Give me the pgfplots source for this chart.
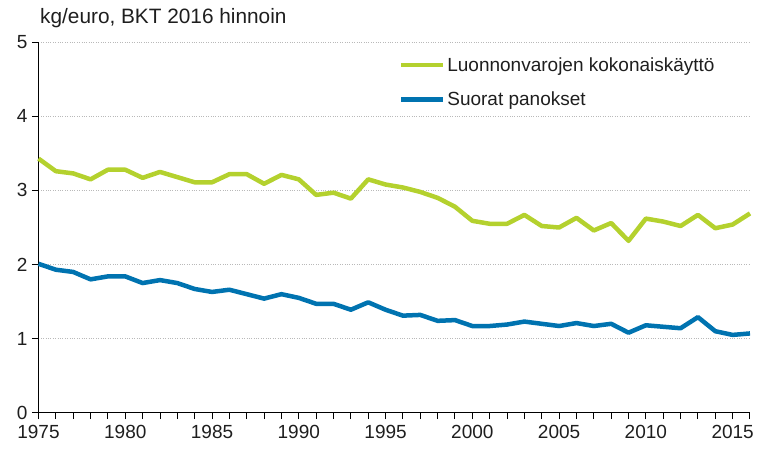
\documentclass[border=0pt]{standalone}
\usepackage{pgfplots}
\pgfplotsset{compat=1.18}
\usepackage{fontspec}
\setmainfont{Liberation Sans}
\definecolor{sfgreen}{RGB}{180,209,46}
\definecolor{sfblue}{RGB}{0,115,176}
\definecolor{txt}{RGB}{30,30,30}
\begin{document}
\begin{tikzpicture}
\useasboundingbox (-38.5bp,-40.3bp) rectangle (719.5bp,412.7bp);
\begin{axis}[
  at={(0,0)}, anchor=south west,
  scale only axis,
  width=711.5bp, height=370.4bp,
  xmin=1975, xmax=2016, ymin=0, ymax=5,
  axis x line*=bottom, axis y line*=left,
  axis line style={black, line width=0.9bp, -},
  xtick={1975,1980,...,2015},
  minor xtick={1975,...,2016},
  ytick={0,1,...,5},
  tick align=outside,
  major tick length=6.5bp, minor tick length=6.5bp,
  tick style={black, line width=0.9bp},
  ymajorgrids,
  major grid style={gray!55, dotted, line width=0.6bp},
  /pgf/number format/1000 sep={},
  /pgf/number format/assume math mode=true,
  ticklabel style={font=\fontsize{19bp}{22bp}\selectfont, text=txt},
  xticklabel style={yshift=-3bp},
  yticklabel style={xshift=-1bp},
  legend style={at={(rel axis cs:0.502,0.97)}, anchor=north west, draw=none, fill=none,
    font=\fontsize{19bp}{22bp}\selectfont, text=txt, row sep=15bp,
    nodes={inner xsep=2bp, inner ysep=2bp}},
  legend cell align=left,
  legend image code/.code={\draw[#1, line width=4.5bp] (0bp,0bp) -- (42bp,0bp);},
  clip=false,
]
\addplot[sfgreen, line width=4.5bp, line join=round] coordinates {
(1975,3.43)(1976,3.26)(1977,3.23)(1978,3.15)(1979,3.28)(1980,3.28)(1981,3.17)(1982,3.25)(1983,3.18)(1984,3.11)(1985,3.11)(1986,3.22)(1987,3.22)(1988,3.09)(1989,3.21)(1990,3.15)(1991,2.94)(1992,2.97)(1993,2.89)(1994,3.15)(1995,3.08)(1996,3.04)(1997,2.98)(1998,2.90)(1999,2.78)(2000,2.59)(2001,2.55)(2002,2.55)(2003,2.67)(2004,2.52)(2005,2.50)(2006,2.63)(2007,2.46)(2008,2.56)(2009,2.32)(2010,2.62)(2011,2.58)(2012,2.52)(2013,2.67)(2014,2.49)(2015,2.54)(2016,2.69)};
\addlegendentry{Luonnonvarojen kokonaisk\"aytt\"o}
\addplot[sfblue, line width=4.5bp, line join=round] coordinates {
(1975,2.01)(1976,1.93)(1977,1.90)(1978,1.80)(1979,1.84)(1980,1.84)(1981,1.75)(1982,1.79)(1983,1.75)(1984,1.67)(1985,1.63)(1986,1.66)(1987,1.60)(1988,1.54)(1989,1.60)(1990,1.55)(1991,1.47)(1992,1.47)(1993,1.39)(1994,1.49)(1995,1.39)(1996,1.31)(1997,1.32)(1998,1.24)(1999,1.25)(2000,1.17)(2001,1.17)(2002,1.19)(2003,1.23)(2004,1.20)(2005,1.17)(2006,1.21)(2007,1.17)(2008,1.20)(2009,1.08)(2010,1.18)(2011,1.16)(2012,1.14)(2013,1.29)(2014,1.10)(2015,1.05)(2016,1.07)};
\addlegendentry{Suorat panokset}
\node[anchor=base west, inner sep=0pt, font=\fontsize{20.8bp}{24bp}\selectfont, text=txt]
  at ([xshift=1.5bp, yshift=18.3bp]rel axis cs:0,1) {kg/euro, BKT 2016 hinnoin};
\end{axis}
\end{tikzpicture}
\end{document}
